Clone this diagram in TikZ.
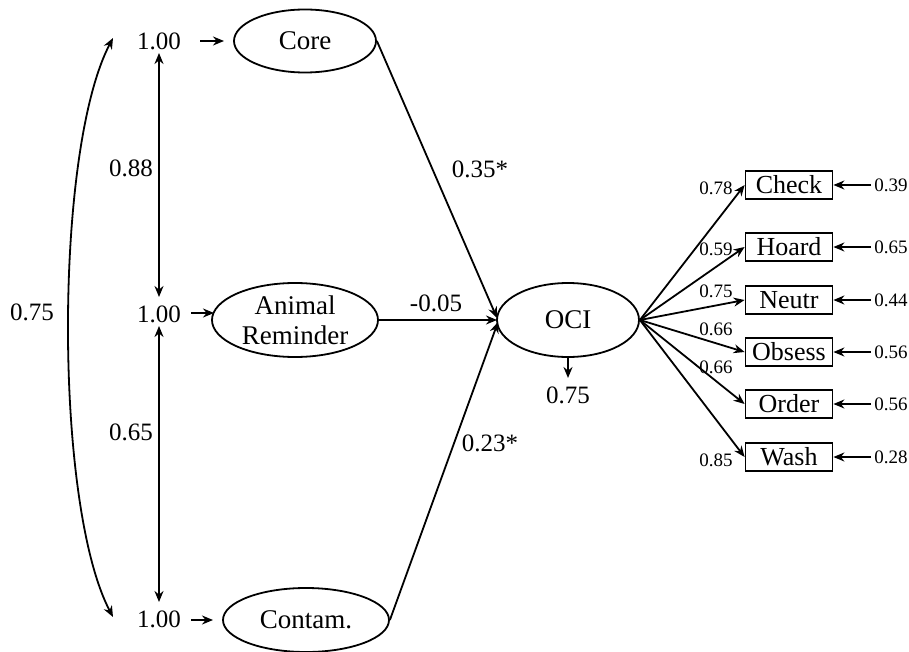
\documentclass[tikz,border=0pt]{standalone}
\usepackage{fontspec}
\setmainfont{Liberation Serif}
\usetikzlibrary{shapes.geometric,arrows.meta}
\begin{document}
\begin{tikzpicture}[x=0.5pt,y=-0.5pt,
  lat/.style={draw,ellipse,line width=0.9pt,inner sep=0pt,font=\fontsize{13.5}{15}\selectfont},
  ind/.style={draw,rectangle,line width=0.9pt,minimum width=43.5pt,minimum height=14pt,inner sep=0pt,font=\fontsize{13}{14}\selectfont},
  lbl/.style={inner sep=0pt,font=\fontsize{12.5}{14}\selectfont},
  slbl/.style={inner sep=0pt,font=\fontsize{9.5}{10}\selectfont},
  arr/.style={line width=0.9pt,-{Stealth[length=5.5pt,width=4.5pt]}},
  darr/.style={line width=0.9pt,{Stealth[length=5.5pt,width=4.5pt]}-{Stealth[length=5.5pt,width=4.5pt]}}]
\useasboundingbox (0,0) rectangle (909,652);
% latent variables
\node[lat,minimum width=71pt,minimum height=31.5pt] (core) at (305,41) {Core};
\node[lat,minimum width=83pt,minimum height=37pt,align=center] (anim) at (295,320) {Animal\\Reminder};
\node[lat,minimum width=83pt,minimum height=32pt] (cont) at (306,620) {Contam.};
\node[lat,minimum width=71pt,minimum height=37pt] (oci) at (568,320) {OCI};
% variances
\node[lbl] (v1) at (159,41) {1.00};
\node[lbl] (v2) at (159,314) {1.00};
\node[lbl] (v3) at (159,619) {1.00};
\coordinate (v1s) at (200,41); \coordinate (v1e) at (224,41);
\coordinate (v2s) at (191,313); \coordinate (v2e) at (214,313);
\coordinate (v3s) at (191,620); \coordinate (v3e) at (213,620);
\draw[arr] (v1s) -- (v1e);
\draw[arr] (v2s) -- (v2e);
\draw[arr] (v3s) -- (v3e);
% correlations
\coordinate (c1a) at (159,53); \coordinate (c1b) at (159,297);
\coordinate (c2a) at (159,326); \coordinate (c2b) at (159,602);
\draw[darr] (c1a) -- (c1b);
\draw[darr] (c2a) -- (c2b);
\node[lbl] (r1) at (131,168) {0.88};
\node[lbl] (r2) at (131,432) {0.65};
\coordinate (ct) at (113,38); \coordinate (cb) at (113,617);
\draw[darr] (ct) .. controls (54,150) and (54,505) .. (cb);
\node[lbl] (r3) at (32,312) {0.75};
% structural paths
\coordinate (ociin) at (497,318);
\draw[arr] (core.east) -- (ociin);
\draw[arr] (anim.east) -- (497,320);
\draw[arr] (cont.east) -- (498,322);
\node[lbl] (p1) at (480,169) {0.35*};
\node[lbl] (p2) at (436,303) {-0.05};
\node[lbl] (p3) at (490,443) {0.23*};
% OCI residual
\coordinate (ocires) at (568,378);
\draw[arr] (oci.south) -- (ocires);
\node[lbl] (e0) at (568,395) {0.75};
% indicators
\foreach \n/\t/\y/\l/\ly/\e in {i1/Check/185/0.78/188/0.39, i2/Hoard/247/0.59/249/0.65, i3/Neutr/300/0.75/291/0.44, i4/Obsess/352/0.66/329/0.56, i5/Order/404/0.66/367/0.56, i6/Wash/457/0.85/460/0.28}{
  \node[ind] (\n) at (789,\y) {\t};
  \draw[arr] (oci.east) -- (\n.west);
  \node[slbl] (\n l) at (716,\ly) {\l};
  \coordinate (\n r) at (871,\y);
  \draw[arr] (\n r) -- (\n.east);
  \node[slbl,anchor=west] (\n e) at (874,\y) {\e};
}
\end{tikzpicture}
\end{document}
